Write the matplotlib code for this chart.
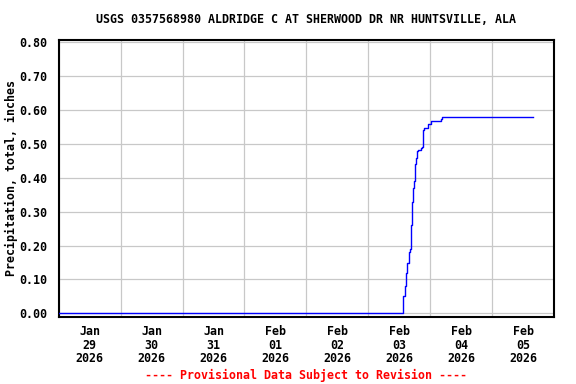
import matplotlib
matplotlib.use("Agg")
import matplotlib.pyplot as plt
import matplotlib.dates as mdates
import pandas as pd

title = "USGS 0357568980 ALDRIDGE C AT SHERWOOD DR NR HUNTSVILLE, ALA"
ylabel = "Precipitation, total, inches"
footer = "---- Provisional Data Subject to Revision ----"

times = [
    "2026-01-29 00:00", "2026-02-03 13:34", "2026-02-03 14:05", "2026-02-03 14:36",
    "2026-02-03 15:07", "2026-02-03 15:38", "2026-02-03 16:09", "2026-02-03 16:25",
    "2026-02-03 16:41", "2026-02-03 17:04", "2026-02-03 17:27", "2026-02-03 17:51",
    "2026-02-03 18:06", "2026-02-03 18:30", "2026-02-03 18:53", "2026-02-03 19:24",
    "2026-02-03 20:18", "2026-02-03 20:57", "2026-02-03 21:21", "2026-02-03 21:36",
    "2026-02-03 23:09", "2026-02-04 00:12", "2026-02-04 04:21", "2026-02-04 04:44",
    "2026-02-05 15:43",
]
values = [
    0.00, 0.05, 0.08, 0.12,
    0.15, 0.18, 0.19, 0.20,
    0.26, 0.33, 0.37, 0.39,
    0.44, 0.46, 0.48, 0.482,
    0.487, 0.49, 0.54, 0.548,
    0.56, 0.567, 0.574, 0.58,
    0.58,
]
yticks = [0.0, 0.1, 0.2, 0.3, 0.4, 0.5, 0.6, 0.7, 0.8]
xlim = ("2026-01-29 00:00", "2026-02-06 00:00")

font = "DejaVu Sans Mono"
fs = 8.4

t = pd.to_datetime(times)
fig = plt.figure(figsize=(5.76, 3.84), dpi=100)
ax = fig.add_axes([0.1019, 0.1753, 0.8599, 0.7205])
ax.plot(t, values, color="#0000ff", linewidth=1.0, drawstyle="steps-post", zorder=3)

ax.set_xlim(pd.Timestamp(xlim[0]), pd.Timestamp(xlim[1]))
ax.set_ylim(-0.01, 0.807)
ax.set_yticks(yticks)
ax.set_yticklabels([f"{v:.2f}" for v in yticks], fontfamily=font, fontweight="bold", fontsize=fs)

ax.xaxis.set_major_locator(mdates.DayLocator())
ax.xaxis.set_major_formatter(plt.NullFormatter())
ax.xaxis.set_minor_locator(mdates.HourLocator(byhour=[12]))
ax.xaxis.set_minor_formatter(mdates.DateFormatter("%b\n%d\n%Y"))
ax.tick_params(axis="x", which="both", length=0, pad=6)
ax.tick_params(axis="y", length=0, pad=8)
for lab in ax.get_xticklabels(minor=True):
    lab.set_fontfamily(font)
    lab.set_fontweight("bold")
    lab.set_fontsize(fs)
    lab.set_linespacing(1.05)

ax.grid(True, which="major", color="#c8c8c8", linewidth=0.9)
for s in ax.spines.values():
    s.set_linewidth(1.5)
    s.set_color("black")

ax.set_ylabel(ylabel, fontfamily=font, fontweight="bold", fontsize=fs)
ax.yaxis.set_label_coords(-0.082, 0.5)
ax.set_title(title, fontfamily=font, fontweight="bold", fontsize=fs, pad=12)
fig.text(0.532, 0.0234, footer, color="red", ha="center", va="center",
         fontfamily=font, fontweight="bold", fontsize=fs)

fig.savefig("out.png", dpi=100)
